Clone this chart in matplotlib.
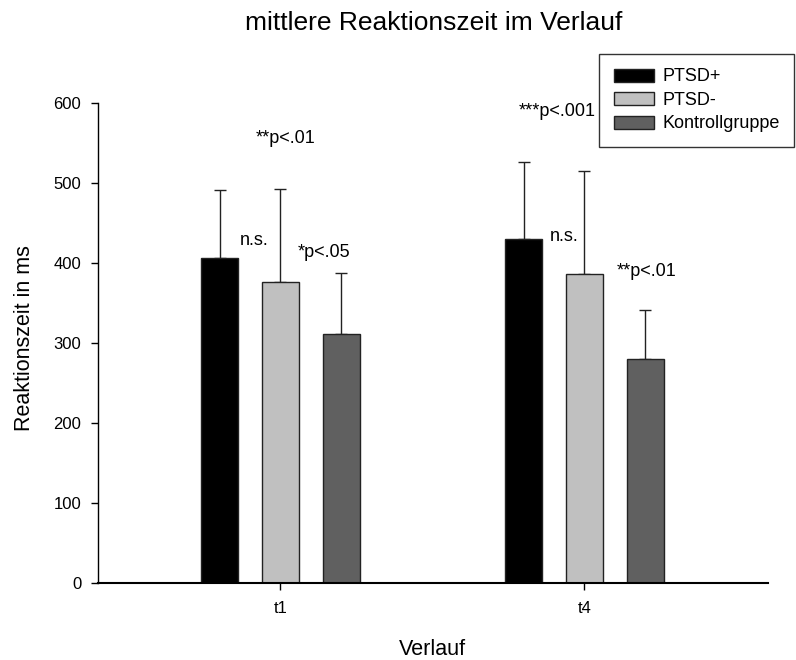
import matplotlib
matplotlib.use("Agg")
import matplotlib.pyplot as plt
import numpy as np

plt.rcParams['font.family'] = ['Liberation Sans', 'DejaVu Sans']

categories = ["t1", "t4"]
groups = ["PTSD+", "PTSD-", "Kontrollgruppe"]
means = {
    "PTSD+": [407, 430],
    "PTSD-": [376, 386],
    "Kontrollgruppe": [312, 280],
}
errors = {
    "PTSD+": [84, 96],
    "PTSD-": [117, 129],
    "Kontrollgruppe": [76, 61],
}
colors = {"PTSD+": "#000000", "PTSD-": "#C0C0C0", "Kontrollgruppe": "#606060"}

# significance annotations: (x in category units, y value, text)
annotations = [
    (-0.0806, 550, "**p<.01"),
    (-0.133, 423, "n.s."),
    (0.0576, 408, "*p<.05"),
    (0.7845, 584, "***p<.001"),
    (0.8865, 428, "n.s."),
    (1.1069, 384, "**p<.01"),
]

fig = plt.figure(figsize=(7.96, 6.6), dpi=100)
ax = fig.add_axes([98 / 796, 1 - 583.3 / 660, 670 / 796, 480 / 660])

x = np.arange(len(categories))
offsets = [-0.2, 0.0, 0.2]
width = 0.1227
for g, off in zip(groups, offsets):
    ax.bar(x + off, means[g], width, color=colors[g], edgecolor="#222222", linewidth=1.0,
           label=g, zorder=2)
    ax.errorbar(x + off, means[g], yerr=[np.zeros(len(x)), errors[g]], fmt="none",
                ecolor="#222222", elinewidth=1.0, capsize=4.3, capthick=1.0, zorder=1)

for xv, yv, txt in annotations:
    ax.text(xv, yv, txt, ha="left", va="baseline", fontsize=13)

ax.set_xlim(-0.600, 1.604)
ax.set_ylim(0, 600)
ax.set_yticks([0, 100, 200, 300, 400, 500, 600])
ax.set_xticks(x)
ax.set_xticklabels(categories)
ax.spines["top"].set_visible(False)
ax.spines["right"].set_visible(False)
ax.spines["left"].set_linewidth(1.0)
ax.spines["bottom"].set_linewidth(1.5)
ax.tick_params(direction="out", length=5, width=1.0, labelsize=12)
ax.tick_params(axis="y", pad=7)
ax.tick_params(axis="x", pad=8)
ax.set_ylabel("Reaktionszeit in ms", fontsize=15.5, va="center")
ax.yaxis.set_label_coords(-0.1094, 0.51)
ax.set_xlabel("Verlauf", fontsize=15.5)
ax.xaxis.set_label_coords(0.4993, -0.117)
fig.text(433.5 / 796, 1 - 29.5 / 660, "mittlere Reaktionszeit im Verlauf",
         ha="center", va="baseline", fontsize=19)

leg = fig.legend(loc="upper right", bbox_to_anchor=(794 / 796, 1 - 54 / 660),
                 borderaxespad=0, frameon=True, fancybox=False, edgecolor="black",
                 fontsize=13, handlelength=2.2, handleheight=0.72, borderpad=0.8,
                 labelspacing=0.36, handletextpad=0.48)
leg.get_frame().set_linewidth(1.0)

fig.savefig("out.png", dpi=100)
